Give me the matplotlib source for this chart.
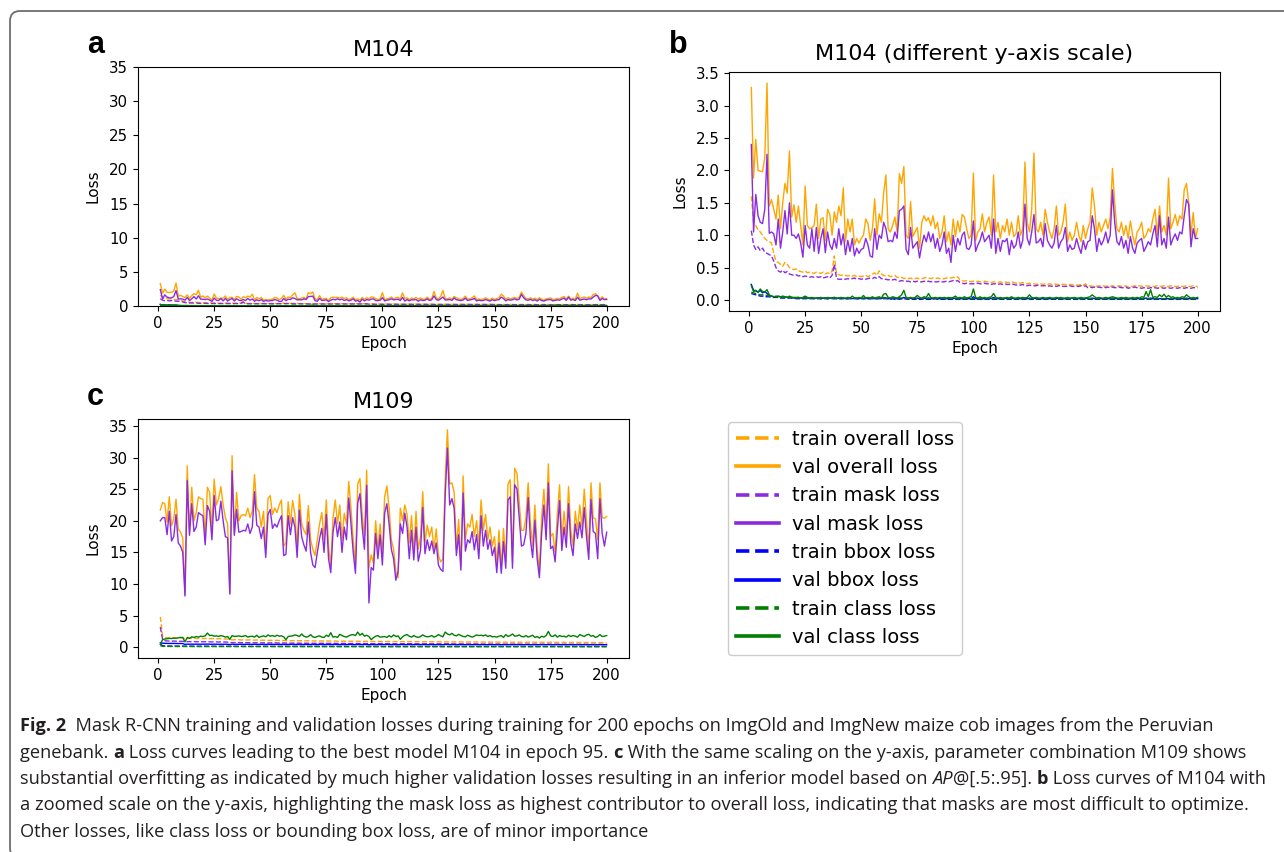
import matplotlib
matplotlib.use("Agg")
import matplotlib.pyplot as plt
from matplotlib.lines import Line2D
from matplotlib.patches import FancyBboxPatch
from matplotlib.transforms import IdentityTransform
from matplotlib import font_manager

# ---------------- data: M104 (panels a and b) ----------------
m104_val_overall = [
    3.28, 1.88, 2.48, 2.00, 1.99, 1.98, 2.20, 3.35, 1.45, 1.55,
    1.40, 1.25, 1.62, 1.10, 1.50, 1.80, 1.65, 2.30, 1.28, 1.47,
    1.20, 1.45, 1.15, 0.85, 1.76, 1.15, 1.10, 1.12, 1.15, 1.48,
    0.95, 1.25, 1.27, 0.92, 1.40, 1.32, 1.00, 1.36, 1.20, 1.45,
    1.30, 1.73, 0.90, 1.25, 1.05, 1.25, 0.85, 0.95, 0.88, 0.95,
    1.00, 1.25, 1.18, 0.92, 1.10, 1.56, 1.00, 1.33, 1.20, 1.65,
    1.93, 1.10, 1.05, 1.15, 1.28, 1.05, 1.95, 1.80, 2.06, 1.00,
    0.95, 1.52, 0.98, 1.05, 1.12, 0.80, 1.20, 1.30, 1.22, 1.27,
    1.15, 1.30, 1.10, 1.20, 0.95, 1.05, 1.30, 0.90, 1.05, 0.85,
    1.25, 0.98, 1.22, 1.05, 1.32, 1.28, 1.10, 0.95, 1.00, 1.96,
    0.92, 1.05, 1.10, 1.33, 1.05, 1.20, 1.28, 1.00, 1.93, 1.05,
    1.20, 0.95, 1.15, 1.05, 1.25, 1.00, 1.20, 0.98, 1.02, 1.30,
    1.00, 1.10, 2.13, 1.20, 1.05, 1.40, 2.27, 1.10, 1.05, 1.20,
    1.00, 1.40, 1.20, 1.05, 0.95, 1.10, 1.45, 1.00, 1.05, 1.20,
    1.48, 0.90, 1.05, 0.92, 1.00, 1.20, 1.00, 0.90, 1.15, 0.95,
    1.10, 1.20, 1.73, 1.45, 1.00, 1.20, 1.05, 1.15, 1.25, 1.10,
    1.28, 2.03, 1.50, 1.10, 1.05, 1.20, 1.00, 1.15, 0.95, 1.22,
    1.00, 0.85, 1.05, 1.10, 1.20, 0.95, 1.00, 1.10, 1.05, 1.25,
    1.40, 1.00, 1.45, 1.05, 1.15, 1.00, 1.88, 1.10, 1.20, 1.32,
    1.15, 1.30, 1.25, 1.70, 1.80, 1.50, 1.00, 1.35, 0.95, 1.10,
]
m104_val_mask = [
    2.40, 1.05, 1.63, 1.30, 1.20, 1.18, 1.40, 2.25, 1.03, 1.05,
    1.02, 0.85, 1.25, 0.80, 1.05, 1.38, 1.02, 1.50, 1.00, 1.00,
    0.95, 1.02, 0.88, 0.66, 1.15, 0.85, 0.80, 1.10, 0.75, 1.12,
    0.72, 0.95, 1.10, 0.73, 1.05, 0.85, 0.78, 0.95, 0.80, 1.10,
    0.85, 1.02, 0.70, 0.92, 0.75, 0.95, 0.68, 0.80, 0.72, 0.78,
    0.80, 0.95, 0.85, 0.68, 0.66, 1.10, 0.78, 1.00, 0.95, 1.20,
    1.10, 0.90, 0.92, 0.90, 1.05, 0.95, 1.38, 1.40, 1.45, 0.78,
    0.70, 1.12, 0.80, 0.85, 0.90, 0.65, 0.85, 1.00, 0.90, 1.05,
    0.90, 1.02, 0.80, 0.95, 0.75, 0.85, 1.05, 0.72, 0.80, 0.58,
    1.00, 0.75, 0.95, 0.85, 1.00, 1.05, 0.80, 0.78, 0.85, 1.22,
    0.75, 0.85, 0.92, 1.05, 0.90, 0.95, 1.00, 0.80, 1.25, 0.72,
    0.95, 0.75, 0.92, 0.90, 0.95, 0.70, 0.92, 0.80, 0.85, 1.05,
    0.80, 0.92, 1.48, 0.95, 0.85, 1.05, 1.32, 0.88, 0.90, 0.95,
    0.82, 1.18, 0.92, 0.85, 0.80, 0.88, 1.15, 0.80, 0.90, 0.95,
    1.12, 0.75, 0.85, 0.78, 0.80, 0.95, 0.82, 0.72, 0.92, 0.78,
    0.90, 0.92, 1.30, 1.10, 0.75, 0.95, 0.85, 0.92, 1.05, 0.88,
    1.00, 1.70, 1.20, 0.90, 0.85, 0.98, 0.80, 0.92, 0.72, 0.98,
    0.80, 0.72, 0.88, 0.92, 0.95, 0.75, 0.82, 0.90, 0.85, 1.02,
    1.15, 0.82, 1.30, 0.85, 0.95, 0.80, 1.28, 0.85, 0.95, 1.02,
    0.92, 1.05, 1.02, 1.30, 1.55, 1.48, 0.82, 1.10, 0.95, 0.95,
]
m104_train_overall = [
    1.60, 1.20, 1.15, 1.08, 1.05, 1.00, 0.95, 0.92, 0.90, 0.88,
    0.72, 0.60, 0.58, 0.55, 0.52, 0.58, 0.55, 0.50, 0.48, 0.47,
    0.48, 0.45, 0.44, 0.43, 0.45, 0.42, 0.43, 0.42, 0.41, 0.43,
    0.42, 0.41, 0.43, 0.40, 0.42, 0.40, 0.45, 0.68, 0.40, 0.39,
    0.38, 0.39, 0.38, 0.37, 0.38, 0.37, 0.38, 0.36, 0.37, 0.36,
    0.37, 0.38, 0.36, 0.38, 0.40, 0.42, 0.38, 0.45, 0.40, 0.38,
    0.37, 0.38, 0.36, 0.37, 0.38, 0.35, 0.34, 0.35, 0.33, 0.34,
    0.33, 0.34, 0.32, 0.33, 0.34, 0.32, 0.33, 0.34, 0.35, 0.34,
    0.33, 0.34, 0.33, 0.34, 0.33, 0.32, 0.33, 0.34, 0.33, 0.34,
    0.35, 0.34, 0.36, 0.31, 0.30, 0.29, 0.30, 0.29, 0.28, 0.29,
    0.28, 0.29, 0.28, 0.28, 0.29, 0.28, 0.28, 0.27, 0.28, 0.28,
    0.27, 0.28, 0.27, 0.28, 0.27, 0.27, 0.28, 0.27, 0.26, 0.27,
    0.26, 0.27, 0.25, 0.25, 0.26, 0.25, 0.25, 0.24, 0.25, 0.25,
    0.24, 0.25, 0.24, 0.25, 0.24, 0.25, 0.24, 0.24, 0.25, 0.24,
    0.24, 0.23, 0.24, 0.23, 0.24, 0.23, 0.23, 0.24, 0.23, 0.25,
    0.21, 0.22, 0.21, 0.22, 0.21, 0.22, 0.21, 0.22, 0.21, 0.22,
    0.21, 0.22, 0.21, 0.21, 0.22, 0.21, 0.21, 0.22, 0.20, 0.21,
    0.21, 0.22, 0.21, 0.22, 0.21, 0.21, 0.22, 0.21, 0.22, 0.21,
    0.21, 0.22, 0.21, 0.21, 0.22, 0.21, 0.21, 0.22, 0.21, 0.21,
    0.21, 0.22, 0.21, 0.21, 0.22, 0.21, 0.21, 0.22, 0.21, 0.21,
]
m104_train_mask = [
    1.07, 0.85, 0.78, 0.82, 0.76, 0.80, 0.74, 0.72, 0.70, 0.68,
    0.60, 0.50, 0.45, 0.43, 0.46, 0.42, 0.44, 0.40, 0.39, 0.38,
    0.39, 0.37, 0.38, 0.36, 0.37, 0.36, 0.35, 0.36, 0.35, 0.36,
    0.35, 0.36, 0.34, 0.35, 0.36, 0.34, 0.38, 0.55, 0.33, 0.32,
    0.32, 0.33, 0.32, 0.33, 0.32, 0.33, 0.34, 0.32, 0.33, 0.32,
    0.33, 0.32, 0.33, 0.34, 0.33, 0.35, 0.33, 0.36, 0.33, 0.32,
    0.32, 0.31, 0.32, 0.31, 0.32, 0.30, 0.29, 0.30, 0.29, 0.29,
    0.29, 0.28, 0.29, 0.28, 0.29, 0.28, 0.28, 0.29, 0.28, 0.29,
    0.28, 0.29, 0.28, 0.28, 0.29, 0.28, 0.28, 0.29, 0.28, 0.29,
    0.30, 0.29, 0.30, 0.27, 0.26, 0.25, 0.26, 0.25, 0.25, 0.25,
    0.25, 0.26, 0.25, 0.25, 0.26, 0.25, 0.25, 0.24, 0.25, 0.25,
    0.24, 0.25, 0.24, 0.25, 0.24, 0.24, 0.25, 0.24, 0.23, 0.24,
    0.23, 0.24, 0.22, 0.22, 0.23, 0.22, 0.22, 0.22, 0.23, 0.22,
    0.22, 0.22, 0.21, 0.22, 0.21, 0.22, 0.21, 0.22, 0.22, 0.21,
    0.21, 0.21, 0.22, 0.21, 0.21, 0.21, 0.21, 0.22, 0.21, 0.22,
    0.19, 0.20, 0.19, 0.20, 0.19, 0.20, 0.19, 0.20, 0.19, 0.20,
    0.19, 0.20, 0.19, 0.19, 0.20, 0.19, 0.19, 0.20, 0.18, 0.19,
    0.19, 0.20, 0.19, 0.19, 0.18, 0.19, 0.19, 0.18, 0.19, 0.19,
    0.19, 0.18, 0.19, 0.19, 0.18, 0.19, 0.19, 0.18, 0.19, 0.19,
    0.18, 0.19, 0.19, 0.18, 0.19, 0.19, 0.18, 0.19, 0.19, 0.19,
]
m104_val_bbox = [
    0.24, 0.15, 0.14, 0.12, 0.15, 0.11, 0.13, 0.10, 0.07, 0.06,
    0.05, 0.05, 0.06, 0.05, 0.04, 0.05, 0.04, 0.04, 0.04, 0.03,
    0.03, 0.04, 0.03, 0.03, 0.05, 0.03, 0.03, 0.03, 0.02, 0.03,
    0.03, 0.02, 0.03, 0.03, 0.02, 0.03, 0.03, 0.04, 0.02, 0.03,
    0.02, 0.03, 0.02, 0.02, 0.03, 0.02, 0.03, 0.02, 0.02, 0.03,
    0.02, 0.03, 0.02, 0.02, 0.03, 0.02, 0.02, 0.03, 0.02, 0.04,
    0.03, 0.02, 0.02, 0.03, 0.02, 0.02, 0.03, 0.02, 0.04, 0.02,
    0.02, 0.03, 0.02, 0.02, 0.03, 0.02, 0.02, 0.03, 0.02, 0.03,
    0.02, 0.02, 0.03, 0.02, 0.02, 0.03, 0.02, 0.02, 0.02, 0.03,
    0.02, 0.03, 0.02, 0.02, 0.02, 0.03, 0.02, 0.02, 0.02, 0.05,
    0.02, 0.02, 0.03, 0.02, 0.02, 0.02, 0.03, 0.02, 0.04, 0.02,
    0.02, 0.02, 0.02, 0.03, 0.02, 0.02, 0.03, 0.02, 0.02, 0.02,
    0.02, 0.03, 0.03, 0.02, 0.03, 0.02, 0.03, 0.02, 0.02, 0.02,
    0.02, 0.02, 0.03, 0.02, 0.02, 0.02, 0.02, 0.03, 0.02, 0.02,
    0.02, 0.02, 0.02, 0.03, 0.02, 0.02, 0.02, 0.02, 0.02, 0.03,
    0.02, 0.02, 0.03, 0.02, 0.02, 0.02, 0.02, 0.02, 0.02, 0.02,
    0.02, 0.03, 0.02, 0.02, 0.02, 0.02, 0.02, 0.02, 0.02, 0.02,
    0.02, 0.02, 0.02, 0.02, 0.02, 0.02, 0.03, 0.02, 0.03, 0.02,
    0.02, 0.02, 0.02, 0.02, 0.02, 0.02, 0.02, 0.02, 0.02, 0.02,
    0.02, 0.02, 0.02, 0.02, 0.03, 0.02, 0.02, 0.02, 0.02, 0.02,
]
m104_train_bbox = [
    0.10, 0.09, 0.08, 0.07, 0.06, 0.06, 0.05, 0.05, 0.05, 0.04,
    0.04, 0.04, 0.04, 0.03, 0.03, 0.03, 0.03, 0.03, 0.03, 0.03,
    0.02, 0.02, 0.02, 0.02, 0.02, 0.02, 0.02, 0.02, 0.02, 0.02,
    0.02, 0.02, 0.02, 0.02, 0.02, 0.02, 0.02, 0.02, 0.02, 0.02,
    0.02, 0.02, 0.02, 0.02, 0.02, 0.02, 0.02, 0.02, 0.02, 0.02,
    0.02, 0.02, 0.02, 0.02, 0.02, 0.02, 0.02, 0.02, 0.02, 0.02,
    0.02, 0.02, 0.01, 0.02, 0.01, 0.02, 0.01, 0.02, 0.01, 0.02,
    0.01, 0.02, 0.01, 0.01, 0.02, 0.01, 0.01, 0.02, 0.01, 0.01,
    0.01, 0.01, 0.02, 0.01, 0.01, 0.01, 0.01, 0.01, 0.01, 0.01,
    0.01, 0.01, 0.01, 0.01, 0.01, 0.01, 0.01, 0.01, 0.01, 0.01,
    0.01, 0.01, 0.01, 0.01, 0.01, 0.01, 0.01, 0.01, 0.01, 0.01,
    0.01, 0.01, 0.01, 0.01, 0.01, 0.01, 0.01, 0.01, 0.01, 0.01,
    0.01, 0.01, 0.01, 0.01, 0.01, 0.01, 0.01, 0.01, 0.01, 0.01,
    0.01, 0.01, 0.01, 0.01, 0.01, 0.01, 0.01, 0.01, 0.01, 0.01,
    0.01, 0.01, 0.01, 0.01, 0.01, 0.01, 0.01, 0.01, 0.01, 0.01,
    0.01, 0.01, 0.01, 0.01, 0.01, 0.01, 0.01, 0.01, 0.01, 0.01,
    0.01, 0.01, 0.01, 0.01, 0.01, 0.01, 0.01, 0.01, 0.01, 0.01,
    0.01, 0.01, 0.01, 0.01, 0.01, 0.01, 0.01, 0.01, 0.01, 0.01,
    0.01, 0.01, 0.01, 0.01, 0.01, 0.01, 0.01, 0.01, 0.01, 0.01,
    0.01, 0.01, 0.01, 0.01, 0.01, 0.01, 0.01, 0.01, 0.01, 0.01,
]
m104_val_class = [
    0.22, 0.13, 0.15, 0.12, 0.17, 0.13, 0.12, 0.16, 0.08, 0.06,
    0.05, 0.06, 0.05, 0.05, 0.06, 0.05, 0.04, 0.06, 0.04, 0.04,
    0.04, 0.04, 0.03, 0.04, 0.06, 0.04, 0.03, 0.04, 0.03, 0.03,
    0.03, 0.04, 0.03, 0.03, 0.04, 0.03, 0.03, 0.04, 0.03, 0.03,
    0.04, 0.03, 0.03, 0.04, 0.03, 0.06, 0.03, 0.03, 0.04, 0.03,
    0.07, 0.03, 0.04, 0.03, 0.05, 0.03, 0.04, 0.05, 0.03, 0.09,
    0.10, 0.04, 0.03, 0.05, 0.04, 0.03, 0.05, 0.08, 0.15, 0.04,
    0.03, 0.04, 0.03, 0.04, 0.07, 0.04, 0.03, 0.05, 0.04, 0.10,
    0.04, 0.03, 0.04, 0.03, 0.04, 0.03, 0.04, 0.03, 0.04, 0.03,
    0.04, 0.06, 0.03, 0.04, 0.03, 0.05, 0.03, 0.04, 0.05, 0.17,
    0.04, 0.03, 0.05, 0.03, 0.04, 0.03, 0.04, 0.05, 0.10, 0.04,
    0.03, 0.04, 0.03, 0.03, 0.04, 0.03, 0.05, 0.03, 0.03, 0.04,
    0.03, 0.04, 0.03, 0.04, 0.08, 0.04, 0.03, 0.04, 0.03, 0.03,
    0.04, 0.03, 0.03, 0.04, 0.03, 0.03, 0.04, 0.03, 0.04, 0.03,
    0.03, 0.04, 0.03, 0.03, 0.04, 0.03, 0.03, 0.04, 0.03, 0.03,
    0.04, 0.05, 0.08, 0.05, 0.03, 0.04, 0.03, 0.03, 0.04, 0.03,
    0.04, 0.05, 0.04, 0.03, 0.03, 0.04, 0.03, 0.04, 0.03, 0.03,
    0.04, 0.03, 0.04, 0.03, 0.05, 0.04, 0.13, 0.05, 0.16, 0.04,
    0.05, 0.04, 0.08, 0.05, 0.09, 0.04, 0.07, 0.04, 0.05, 0.03,
    0.04, 0.03, 0.05, 0.04, 0.08, 0.05, 0.03, 0.04, 0.03, 0.04,
]
m104_train_class = [
    0.12, 0.11, 0.10, 0.09, 0.08, 0.08, 0.07, 0.07, 0.06, 0.06,
    0.05, 0.05, 0.05, 0.05, 0.04, 0.04, 0.04, 0.04, 0.04, 0.04,
    0.03, 0.03, 0.03, 0.03, 0.03, 0.03, 0.03, 0.03, 0.03, 0.03,
    0.03, 0.03, 0.03, 0.03, 0.03, 0.03, 0.03, 0.03, 0.03, 0.03,
    0.03, 0.03, 0.03, 0.03, 0.03, 0.03, 0.03, 0.03, 0.03, 0.03,
    0.03, 0.03, 0.03, 0.03, 0.03, 0.03, 0.03, 0.03, 0.03, 0.03,
    0.03, 0.03, 0.03, 0.03, 0.03, 0.03, 0.03, 0.03, 0.03, 0.03,
    0.02, 0.03, 0.02, 0.03, 0.02, 0.03, 0.02, 0.03, 0.02, 0.03,
    0.02, 0.02, 0.03, 0.02, 0.02, 0.03, 0.02, 0.02, 0.03, 0.02,
    0.02, 0.02, 0.02, 0.02, 0.02, 0.02, 0.02, 0.02, 0.02, 0.02,
    0.02, 0.02, 0.02, 0.02, 0.02, 0.02, 0.02, 0.02, 0.02, 0.02,
    0.02, 0.02, 0.02, 0.02, 0.02, 0.02, 0.02, 0.02, 0.02, 0.02,
    0.02, 0.02, 0.02, 0.02, 0.02, 0.02, 0.02, 0.02, 0.02, 0.02,
    0.02, 0.02, 0.02, 0.02, 0.02, 0.02, 0.02, 0.02, 0.02, 0.02,
    0.02, 0.02, 0.02, 0.02, 0.02, 0.02, 0.02, 0.02, 0.02, 0.02,
    0.02, 0.02, 0.02, 0.02, 0.02, 0.02, 0.02, 0.02, 0.02, 0.02,
    0.02, 0.02, 0.02, 0.02, 0.02, 0.02, 0.02, 0.02, 0.02, 0.02,
    0.02, 0.02, 0.02, 0.02, 0.02, 0.02, 0.02, 0.02, 0.02, 0.02,
    0.02, 0.02, 0.02, 0.02, 0.02, 0.02, 0.02, 0.02, 0.02, 0.02,
    0.02, 0.02, 0.02, 0.02, 0.02, 0.02, 0.02, 0.02, 0.02, 0.02,
]

# ---------------- data: M109 (panel c) ----------------
m109_val_overall = [
    21.7, 22.9, 22.7, 19.8, 23.8, 19.2, 20.3, 23.4, 18.7, 18.2,
    17.3, 8.3, 28.7, 18.0, 25.3, 20.0, 21.3, 23.8, 23.5, 23.4,
    17.5, 25.3, 24.5, 18.5, 26.6, 22.5, 23.5, 25.4, 22.5, 20.5,
    19.5, 8.6, 30.3, 18.0, 24.5, 20.0, 20.8, 21.0, 20.8, 22.0,
    20.5, 21.5, 27.3, 22.0, 21.5, 19.0, 21.5, 15.5, 23.5, 24.0,
    21.0, 22.0, 21.3, 22.5, 23.3, 16.0, 16.5, 23.0, 19.5, 23.2,
    21.0, 15.5, 24.2, 19.5, 18.5, 17.8, 22.4, 17.0, 15.5, 14.5,
    17.0, 19.5, 21.3, 17.0, 23.3, 16.0, 13.0, 20.5, 23.3, 19.5,
    22.5, 17.0, 21.2, 19.5, 26.2, 22.0, 17.0, 13.0, 25.8, 26.7,
    21.0, 17.5, 28.0, 12.5, 14.6, 13.3, 20.0, 15.5, 19.5, 14.5,
    23.8, 25.5, 22.0, 17.0, 15.5, 12.0, 11.0, 22.0, 20.0, 22.5,
    21.0, 16.5, 20.8, 15.0, 21.5, 15.5, 17.5, 24.6, 16.5, 19.3,
    17.5, 19.0, 15.5, 18.7, 14.5, 13.5, 14.0, 26.5, 34.4, 25.8,
    26.0, 24.5, 15.5, 20.2, 13.0, 27.1, 17.0, 19.5, 19.0, 21.0,
    17.5, 20.0, 16.0, 23.3, 18.5, 21.0, 17.0, 19.0, 16.0, 17.5,
    13.0, 18.5, 12.5, 18.8, 13.5, 25.8, 26.5, 13.5, 28.3, 27.5,
    23.0, 18.5, 18.5, 20.5, 26.0, 19.5, 16.0, 22.5, 15.5, 12.0,
    20.5, 25.0, 19.0, 29.0, 17.5, 18.0, 15.0, 21.0, 25.7, 17.0,
    21.5, 17.5, 25.4, 18.5, 16.0, 21.5, 18.5, 22.5, 19.0, 25.0,
    20.0, 15.5, 26.0, 20.5, 20.3, 17.0, 26.0, 20.5, 20.4, 20.7,
]
m109_val_mask = [
    20.0, 20.5, 20.5, 17.8, 21.5, 16.8, 17.5, 21.0, 16.5, 16.0,
    15.0, 8.1, 26.4, 17.7, 22.7, 18.3, 19.0, 21.3, 21.0, 20.8,
    16.2, 22.4, 21.5, 17.0, 24.0, 20.0, 20.2, 23.1, 20.0, 17.5,
    17.3, 8.4, 27.9, 17.7, 21.8, 18.2, 18.3, 18.5, 18.4, 19.5,
    18.0, 19.0, 24.6, 19.3, 19.0, 17.2, 19.0, 14.2, 21.0, 21.8,
    18.8, 19.5, 19.0, 20.0, 20.8, 14.5, 14.7, 20.8, 17.8, 20.5,
    19.0, 14.2, 21.7, 17.5, 16.2, 15.2, 19.8, 15.0, 13.0, 12.6,
    15.0, 17.2, 18.8, 15.0, 21.0, 14.0, 11.8, 18.2, 20.5, 17.5,
    19.8, 15.0, 19.0, 17.0, 23.6, 19.5, 15.0, 11.7, 22.8, 24.3,
    19.0, 15.5, 25.6, 7.0, 12.6, 12.2, 18.0, 14.0, 17.8, 13.0,
    21.2, 22.7, 19.5, 15.5, 14.0, 10.6, 12.0, 19.5, 18.0, 21.2,
    19.0, 14.0, 18.5, 13.8, 19.0, 13.6, 15.3, 22.1, 14.8, 17.0,
    15.3, 16.8, 14.8, 16.5, 13.0, 12.3, 12.0, 24.0, 31.5, 22.5,
    23.5, 22.0, 14.5, 17.8, 12.2, 24.4, 15.2, 17.0, 16.5, 18.3,
    15.4, 17.8, 14.0, 20.8, 16.0, 18.5, 15.5, 17.0, 14.5, 15.8,
    11.8, 16.5, 11.7, 16.7, 12.5, 23.3, 23.8, 12.5, 25.7, 25.0,
    20.5, 16.0, 16.2, 18.0, 23.7, 17.0, 14.2, 20.1, 14.0, 11.0,
    18.0, 22.5, 17.0, 26.0, 15.6, 16.0, 13.5, 18.5, 23.2, 15.3,
    19.0, 15.8, 22.7, 16.5, 14.5, 19.5, 17.2, 19.8, 17.3, 22.1,
    17.5, 13.9, 23.4, 18.3, 18.0, 14.0, 23.5, 18.0, 16.0, 18.2,
]
m109_train_overall = [
    4.80, 1.80, 1.55, 1.50, 1.48, 1.45, 1.50, 1.45, 1.42, 1.48,
    1.45, 1.40, 1.38, 1.42, 1.40, 1.45, 1.38, 1.40, 1.42, 1.38,
    1.40, 1.35, 1.38, 1.36, 1.40, 1.35, 1.33, 1.36, 1.30, 1.32,
    1.28, 1.25, 1.15, 1.20, 1.18, 1.20, 1.15, 1.18, 1.16, 1.15,
    1.18, 1.15, 1.12, 1.15, 1.12, 1.10, 1.12, 1.10, 1.08, 1.10,
    1.10, 1.08, 1.10, 1.07, 1.05, 1.08, 1.05, 1.06, 1.03, 1.05,
    1.05, 1.03, 1.02, 1.04, 1.02, 1.00, 1.03, 1.00, 1.01, 0.98,
    1.00, 0.98, 1.00, 0.97, 0.99, 0.97, 0.98, 0.96, 0.98, 0.95,
    0.97, 0.95, 0.96, 0.94, 0.96, 0.94, 0.95, 0.93, 0.95, 0.93,
    0.94, 0.92, 0.94, 0.92, 0.93, 0.91, 0.93, 0.91, 0.92, 0.90,
    0.92, 0.90, 0.91, 0.89, 0.91, 0.89, 0.90, 0.88, 0.90, 0.88,
    0.89, 0.87, 0.89, 0.87, 0.88, 0.87, 0.88, 0.86, 0.88, 0.86,
    0.87, 0.86, 0.87, 0.85, 0.86, 0.85, 0.86, 0.84, 0.86, 0.84,
    0.85, 0.84, 0.85, 0.83, 0.85, 0.83, 0.84, 0.83, 0.84, 0.82,
    0.84, 0.82, 0.83, 0.82, 0.83, 0.81, 0.83, 0.81, 0.82, 0.81,
    0.82, 0.80, 0.82, 0.80, 0.81, 0.80, 0.81, 0.79, 0.81, 0.79,
    0.80, 0.79, 0.80, 0.78, 0.80, 0.78, 0.79, 0.78, 0.79, 0.77,
    0.79, 0.77, 0.78, 0.77, 0.78, 0.76, 0.78, 0.76, 0.77, 0.76,
    0.77, 0.75, 0.77, 0.75, 0.76, 0.75, 0.76, 0.74, 0.76, 0.74,
    0.75, 0.74, 0.75, 0.73, 0.75, 0.73, 0.74, 0.73, 0.74, 0.73,
]
m109_train_mask = [
    3.20, 1.25, 1.05, 1.00, 0.98, 0.95, 0.98, 0.95, 0.93, 0.95,
    0.93, 0.90, 0.88, 0.90, 0.88, 0.90, 0.87, 0.88, 0.89, 0.86,
    0.87, 0.85, 0.86, 0.84, 0.86, 0.84, 0.83, 0.84, 0.82, 0.83,
    0.81, 0.78, 0.72, 0.75, 0.74, 0.75, 0.72, 0.74, 0.73, 0.72,
    0.73, 0.72, 0.70, 0.72, 0.70, 0.69, 0.70, 0.69, 0.68, 0.69,
    0.69, 0.68, 0.69, 0.67, 0.66, 0.68, 0.66, 0.67, 0.65, 0.66,
    0.66, 0.65, 0.64, 0.65, 0.64, 0.63, 0.64, 0.63, 0.63, 0.62,
    0.63, 0.62, 0.63, 0.61, 0.62, 0.61, 0.62, 0.60, 0.62, 0.60,
    0.61, 0.60, 0.61, 0.59, 0.60, 0.59, 0.60, 0.59, 0.60, 0.58,
    0.59, 0.58, 0.59, 0.58, 0.58, 0.57, 0.58, 0.57, 0.58, 0.57,
    0.57, 0.56, 0.57, 0.56, 0.57, 0.56, 0.56, 0.55, 0.56, 0.55,
    0.56, 0.55, 0.56, 0.55, 0.55, 0.54, 0.55, 0.54, 0.55, 0.54,
    0.54, 0.54, 0.54, 0.53, 0.54, 0.53, 0.54, 0.53, 0.53, 0.52,
    0.53, 0.52, 0.53, 0.52, 0.53, 0.52, 0.52, 0.51, 0.52, 0.51,
    0.52, 0.51, 0.52, 0.51, 0.51, 0.50, 0.51, 0.50, 0.51, 0.50,
    0.51, 0.50, 0.50, 0.50, 0.50, 0.49, 0.50, 0.49, 0.50, 0.49,
    0.49, 0.49, 0.49, 0.48, 0.49, 0.48, 0.49, 0.48, 0.48, 0.48,
    0.48, 0.47, 0.48, 0.47, 0.48, 0.47, 0.48, 0.47, 0.47, 0.47,
    0.47, 0.46, 0.47, 0.46, 0.47, 0.46, 0.47, 0.46, 0.46, 0.46,
    0.46, 0.45, 0.46, 0.45, 0.46, 0.45, 0.45, 0.45, 0.45, 0.45,
]
m109_val_bbox = [
    0.70, 0.65, 0.62, 0.62, 0.60, 0.61, 0.60, 0.60, 0.59, 0.60,
    0.58, 0.45, 0.50, 0.48, 0.49, 0.48, 0.49, 0.48, 0.48, 0.49,
    0.48, 0.50, 0.48, 0.47, 0.49, 0.48, 0.47, 0.48, 0.47, 0.48,
    0.47, 0.42, 0.48, 0.46, 0.47, 0.46, 0.47, 0.46, 0.46, 0.47,
    0.46, 0.46, 0.47, 0.46, 0.45, 0.46, 0.46, 0.44, 0.46, 0.45,
    0.46, 0.45, 0.45, 0.46, 0.45, 0.44, 0.44, 0.45, 0.45, 0.46,
    0.45, 0.44, 0.45, 0.44, 0.45, 0.44, 0.45, 0.44, 0.44, 0.43,
    0.44, 0.44, 0.45, 0.44, 0.45, 0.43, 0.43, 0.44, 0.45, 0.44,
    0.44, 0.43, 0.44, 0.43, 0.45, 0.44, 0.43, 0.42, 0.44, 0.45,
    0.43, 0.43, 0.45, 0.40, 0.42, 0.42, 0.43, 0.42, 0.43, 0.42,
    0.43, 0.44, 0.43, 0.42, 0.42, 0.41, 0.41, 0.43, 0.43, 0.43,
    0.43, 0.42, 0.43, 0.42, 0.43, 0.42, 0.42, 0.43, 0.42, 0.42,
    0.42, 0.42, 0.41, 0.42, 0.41, 0.41, 0.41, 0.43, 0.46, 0.43,
    0.43, 0.43, 0.41, 0.42, 0.41, 0.43, 0.41, 0.42, 0.42, 0.42,
    0.41, 0.42, 0.41, 0.42, 0.41, 0.42, 0.41, 0.41, 0.41, 0.41,
    0.40, 0.41, 0.40, 0.41, 0.40, 0.42, 0.42, 0.40, 0.43, 0.42,
    0.41, 0.40, 0.41, 0.41, 0.42, 0.40, 0.40, 0.41, 0.40, 0.39,
    0.41, 0.42, 0.40, 0.43, 0.40, 0.40, 0.39, 0.41, 0.42, 0.40,
    0.41, 0.40, 0.42, 0.40, 0.39, 0.41, 0.40, 0.41, 0.40, 0.42,
    0.40, 0.39, 0.42, 0.40, 0.40, 0.39, 0.42, 0.40, 0.40, 0.41,
]
m109_train_bbox = [
    0.50, 0.25, 0.20, 0.19, 0.18, 0.18, 0.18, 0.17, 0.17, 0.17,
    0.17, 0.17, 0.16, 0.17, 0.16, 0.16, 0.16, 0.16, 0.16, 0.16,
    0.16, 0.16, 0.16, 0.15, 0.16, 0.15, 0.15, 0.15, 0.15, 0.15,
    0.15, 0.15, 0.14, 0.15, 0.14, 0.15, 0.14, 0.14, 0.14, 0.14,
    0.14, 0.14, 0.14, 0.14, 0.14, 0.14, 0.14, 0.14, 0.14, 0.14,
    0.14, 0.14, 0.14, 0.13, 0.13, 0.14, 0.13, 0.13, 0.13, 0.13,
    0.13, 0.13, 0.13, 0.13, 0.13, 0.13, 0.13, 0.13, 0.13, 0.13,
    0.13, 0.13, 0.13, 0.13, 0.13, 0.13, 0.13, 0.13, 0.13, 0.13,
    0.13, 0.13, 0.13, 0.12, 0.13, 0.12, 0.13, 0.12, 0.13, 0.12,
    0.12, 0.12, 0.12, 0.12, 0.12, 0.12, 0.12, 0.12, 0.12, 0.12,
    0.12, 0.12, 0.12, 0.12, 0.12, 0.12, 0.12, 0.12, 0.12, 0.12,
    0.12, 0.12, 0.12, 0.12, 0.12, 0.12, 0.12, 0.12, 0.12, 0.12,
    0.12, 0.12, 0.12, 0.12, 0.12, 0.12, 0.12, 0.12, 0.12, 0.12,
    0.12, 0.11, 0.12, 0.11, 0.12, 0.11, 0.12, 0.11, 0.12, 0.11,
    0.11, 0.11, 0.11, 0.11, 0.11, 0.11, 0.11, 0.11, 0.11, 0.11,
    0.11, 0.11, 0.11, 0.11, 0.11, 0.11, 0.11, 0.11, 0.11, 0.11,
    0.11, 0.11, 0.11, 0.11, 0.11, 0.11, 0.11, 0.11, 0.11, 0.11,
    0.11, 0.11, 0.11, 0.11, 0.11, 0.11, 0.11, 0.11, 0.11, 0.11,
    0.11, 0.11, 0.11, 0.11, 0.11, 0.11, 0.11, 0.11, 0.11, 0.11,
    0.11, 0.11, 0.11, 0.11, 0.11, 0.11, 0.11, 0.11, 0.11, 0.11,
]
m109_val_class = [
    0.45, 1.20, 1.30, 1.35, 1.40, 1.38, 1.45, 1.42, 1.50, 1.55,
    1.55, 0.85, 1.55, 1.40, 1.65, 1.55, 1.70, 1.60, 1.75, 1.70,
    1.80, 2.25, 1.85, 1.90, 1.75, 1.80, 1.70, 1.85, 1.75, 1.60,
    1.70, 1.25, 1.85, 1.70, 1.75, 1.80, 1.70, 1.75, 1.85, 1.60,
    1.70, 1.75, 1.60, 1.90, 1.55, 1.70, 1.80, 1.65, 1.95, 1.75,
    1.85, 1.70, 1.90, 1.75, 1.80, 1.65, 1.20, 1.70, 1.75, 1.80,
    1.95, 1.85, 1.70, 2.10, 1.75, 1.60, 1.70, 2.00, 1.65, 1.55,
    1.70, 1.80, 1.60, 1.55, 1.90, 1.70, 2.30, 1.60, 1.70, 1.55,
    2.05, 1.85, 1.70, 1.60, 1.80, 1.95, 2.00, 1.85, 2.40, 1.90,
    2.20, 1.75, 1.90, 1.70, 1.20, 1.50, 1.75, 1.85, 1.60, 1.65,
    1.70, 1.55, 1.85, 1.60, 1.95, 1.70, 1.80, 1.25, 1.65, 1.90,
    2.00, 1.75, 1.60, 1.85, 1.65, 1.55, 1.70, 1.95, 1.75, 1.65,
    1.70, 1.85, 1.60, 1.75, 2.00, 1.80, 1.65, 2.40, 2.10, 1.95,
    2.20, 1.90, 1.80, 2.05, 1.85, 1.70, 1.65, 1.90, 1.75, 1.60,
    1.75, 1.95, 1.85, 1.90, 1.80, 1.95, 1.70, 1.85, 1.65, 1.70,
    1.60, 1.75, 1.85, 1.55, 2.00, 1.70, 1.85, 2.10, 1.75, 1.80,
    1.95, 1.70, 1.65, 1.85, 1.60, 1.75, 1.90, 1.55, 1.70, 1.45,
    1.75, 1.60, 1.85, 2.50, 1.80, 1.70, 1.95, 1.60, 1.85, 1.70,
    1.75, 1.60, 1.90, 1.70, 1.85, 1.75, 1.60, 2.00, 1.85, 1.70,
    1.95, 2.05, 1.75, 1.85, 1.55, 1.70, 2.00, 1.70, 1.75, 1.85,
]
m109_train_class = [
    0.25, 0.16, 0.14, 0.13, 0.13, 0.12, 0.12, 0.12, 0.12, 0.12,
    0.12, 0.12, 0.11, 0.12, 0.11, 0.11, 0.11, 0.11, 0.11, 0.11,
    0.11, 0.11, 0.11, 0.11, 0.11, 0.11, 0.11, 0.11, 0.11, 0.11,
    0.11, 0.11, 0.10, 0.11, 0.10, 0.10, 0.10, 0.10, 0.10, 0.10,
    0.10, 0.10, 0.10, 0.10, 0.10, 0.10, 0.10, 0.10, 0.10, 0.10,
    0.10, 0.10, 0.10, 0.10, 0.10, 0.10, 0.10, 0.10, 0.10, 0.10,
    0.10, 0.10, 0.10, 0.10, 0.10, 0.10, 0.10, 0.10, 0.10, 0.10,
    0.10, 0.10, 0.10, 0.10, 0.10, 0.10, 0.10, 0.10, 0.10, 0.10,
    0.10, 0.10, 0.10, 0.10, 0.10, 0.10, 0.10, 0.10, 0.10, 0.10,
    0.10, 0.10, 0.10, 0.10, 0.10, 0.10, 0.10, 0.10, 0.10, 0.10,
    0.10, 0.10, 0.10, 0.10, 0.10, 0.10, 0.10, 0.10, 0.10, 0.10,
    0.10, 0.10, 0.10, 0.10, 0.10, 0.10, 0.10, 0.10, 0.10, 0.10,
    0.10, 0.10, 0.10, 0.10, 0.10, 0.10, 0.10, 0.10, 0.10, 0.10,
    0.10, 0.10, 0.10, 0.10, 0.10, 0.10, 0.10, 0.10, 0.10, 0.10,
    0.10, 0.10, 0.10, 0.10, 0.10, 0.10, 0.10, 0.10, 0.10, 0.10,
    0.10, 0.10, 0.10, 0.10, 0.10, 0.10, 0.10, 0.10, 0.10, 0.10,
    0.10, 0.10, 0.10, 0.10, 0.10, 0.10, 0.10, 0.10, 0.10, 0.10,
    0.10, 0.10, 0.10, 0.10, 0.10, 0.10, 0.10, 0.10, 0.10, 0.10,
    0.10, 0.10, 0.10, 0.10, 0.10, 0.10, 0.10, 0.10, 0.10, 0.10,
    0.10, 0.10, 0.10, 0.10, 0.10, 0.10, 0.10, 0.10, 0.10, 0.10,
]

loss_names = ["overall", "mask", "bbox", "class"]
loss_colors = ["orange", "blueviolet", "blue", "green"]
epoch_ticks = [0, 25, 50, 75, 100, 125, 150, 175, 200]
wide_yticks = [0, 5, 10, 15, 20, 25, 30, 35]
zoom_yticks = [0.0, 0.5, 1.0, 1.5, 2.0, 2.5, 3.0, 3.5]

m104 = {
    "overall": (m104_train_overall, m104_val_overall),
    "mask": (m104_train_mask, m104_val_mask),
    "bbox": (m104_train_bbox, m104_val_bbox),
    "class": (m104_train_class, m104_val_class),
}
m109 = {
    "overall": (m109_train_overall, m109_val_overall),
    "mask": (m109_train_mask, m109_val_mask),
    "bbox": (m109_train_bbox, m109_val_bbox),
    "class": (m109_train_class, m109_val_class),
}

caption_lines = [
    [("Fig. 2", "bold", "normal"),
     ("  Mask R-CNN training and validation losses during training for 200 epochs on ImgOld and ImgNew maize cob images from the Peruvian", "normal", "normal")],
    [("genebank. ", "normal", "normal"), ("a", "bold", "normal"),
     (" Loss curves leading to the best model M104 in epoch 95. ", "normal", "normal"),
     ("c", "bold", "normal"),
     (" With the same scaling on the y-axis, parameter combination M109 shows", "normal", "normal")],
    [("substantial overfitting as indicated by much higher validation losses resulting in an inferior model based on ", "normal", "normal"),
     ("AP", "normal", "italic"), ("@[.5:.95]. ", "normal", "normal"), ("b", "bold", "normal"),
     (" Loss curves of M104 with", "normal", "normal")],
    [("a zoomed scale on the y-axis, highlighting the mask loss as highest contributor to overall loss, indicating that masks are most difficult to optimize.", "normal", "normal")],
    [("Other losses, like class loss or bounding box loss, are of minor importance", "normal", "normal")],
]
caption_right = [1232, 1265, 1270, 1268]   # right edge of the first four lines in the reference

# ---------------- figure ----------------
W, H = 1284, 852
fig = plt.figure(figsize=(W / 100, H / 100), dpi=100)


def px_axes(left, top, right, bottom):
    return fig.add_axes([left / W, 1 - bottom / H, (right - left) / W, (bottom - top) / H])


def draw_losses(ax, data, title, yticks, ylim=None, pad=8):
    for name, color in zip(loss_names, loss_colors):
        train, val = data[name]
        ax.plot(range(1, len(train) + 1), train, color=color, ls="--", lw=1.0)
        ax.plot(range(1, len(val) + 1), val, color=color, ls="-", lw=1.0)
    ax.set_xticks(epoch_ticks)
    ax.set_yticks(yticks)
    if ylim is not None:
        ax.set_ylim(*ylim)
    ax.set_title(title, fontsize=16, pad=pad)
    ax.set_xlabel("Epoch", fontsize=11)
    ax.set_ylabel("Loss", fontsize=11, labelpad=6)
    ax.tick_params(labelsize=10.8)


ax_a = px_axes(138, 67, 629, 306)
draw_losses(ax_a, m104, "M104", wide_yticks, ylim=(0, 35), pad=8)

ax_b = px_axes(729, 72, 1220, 311)
draw_losses(ax_b, m104, "M104 (different y-axis scale)", zoom_yticks, pad=9)
ax_b.set_ylim(-0.17, 3.52)

ax_c = px_axes(138, 419, 629, 658)
draw_losses(ax_c, m109, "M109", wide_yticks, pad=7.7)
ax_c.set_ylim(-1.7, 36.1)

# panel letters
for letter, x, y in [("a", 87, 53), ("b", 669, 53), ("c", 87, 405)]:
    fig.text(x / W, 1 - y / H, letter, fontsize=22, fontweight="bold",
             family=["Liberation Sans", "DejaVu Sans"], va="baseline")

# legend in the empty quadrant
handles = []
labels = []
for name, color in zip(loss_names, loss_colors):
    handles.append(Line2D([], [], color=color, ls="--", lw=2.6))
    labels.append(f"train {name} loss")
    handles.append(Line2D([], [], color=color, ls="-", lw=2.6))
    labels.append(f"val {name} loss")
fig.legend(handles, labels, loc="upper left", bbox_to_anchor=(728 / W, 1 - 422 / H),
           borderaxespad=0, fontsize=14, handlelength=2.2, handletextpad=0.7,
           labelspacing=0.48, framealpha=1, edgecolor="#cccccc")

# outer rounded frame (page box)
frame = FancyBboxPatch((10, -6), 1290, 847, boxstyle="round,pad=0,rounding_size=10",
                       transform=IdentityTransform(), fc="none", ec="#6e6e6e", lw=1.3)
fig.patches.append(frame)

# caption
available = {f.name for f in font_manager.fontManager.ttflist}
cap_family = "DejaVu Sans"
for cand in ["Liberation Sans Narrow", "Open Sans", "Noto Sans", "Lato"]:
    if cand in available:
        cap_family = cand
        break

renderer = fig.canvas.get_renderer()


def text_width(s, size, weight, style):
    t1 = fig.text(0, 0, s + "x", fontsize=size, fontweight=weight, fontstyle=style, family=cap_family)
    t2 = fig.text(0, 0, "x", fontsize=size, fontweight=weight, fontstyle=style, family=cap_family)
    w = t1.get_window_extent(renderer).width - t2.get_window_extent(renderer).width
    t1.remove()
    t2.remove()
    return w


x0 = 20
# one font size for the whole caption, chosen so no line runs past its reference edge
probe = 10.0
ratios = []
for line, right in zip(caption_lines, caption_right):
    w = sum(text_width(s, probe, wt, st) for s, wt, st in line)
    ratios.append((right - x0) / w)
cap_size = probe * min(ratios)

baselines = [731, 757.5, 784, 810.5, 837]
for line, yb in zip(caption_lines, baselines):
    x = x0
    for s, wt, st in line:
        fig.text(x / W, 1 - yb / H, s, fontsize=cap_size, fontweight=wt, fontstyle=st,
                 family=cap_family, color="#231f20", va="baseline")
        x += text_width(s, cap_size, wt, st)

fig.savefig("out.png", dpi=100)
